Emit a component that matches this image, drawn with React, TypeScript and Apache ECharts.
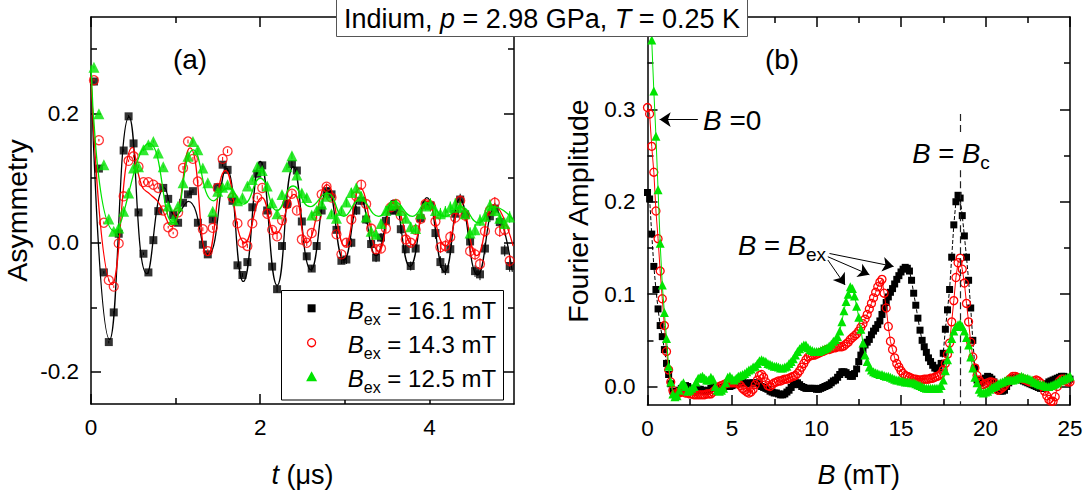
import React, { useEffect, useRef } from "react";
import * as echarts from "echarts";

const FONT = "'Liberation Sans', Arial, Helvetica, sans-serif";
const BLACK = "#000000";
const RED = "#ff0000";
const GREEN = "#00e400";

// ---- panel (a): muSR asymmetry, binned in time ----
const T_FIRST = 0.035; // first bin centre (µs)
const T_STEP = 0.0585; // bin width (µs)

const asymBlack = [
  0.25, 0.115, -0.046, -0.154, -0.108, 0.014, 0.143, 0.196, 0.154, 0.047,
  -0.017, -0.046, 0.004, 0.049, 0.085, 0.068, 0.043, 0.031, 0.062, 0.075,
  0.08, 0.031, -0.003, -0.018, 0.036, 0.086, 0.121, 0.113, 0.065, -0.035,
  -0.05, -0.03, 0.055, 0.107, 0.12, 0.05, -0.037, -0.072, -0.005, 0.06,
  0.122, 0.112, 0.033, -0.021, -0.04, -0.005, 0.05, 0.08, 0.075, 0.02,
  -0.028, -0.026, 0.0, 0.05, 0.065, 0.036, -0.002, -0.023, 0.008, 0.034,
  0.05, 0.05, 0.021, -0.01, -0.036, -0.009, 0.038, 0.058, 0.058, 0.015,
  -0.03, -0.041, -0.01, 0.045, 0.067, 0.044, 0.002, -0.044, -0.049, -0.009,
  0.041, 0.053, 0.032, -0.012, -0.036,
];

const asymRed = [
  0.252, 0.159, 0.031, -0.058, -0.068, -0.001, 0.072, 0.127, 0.134, 0.118,
  0.094, 0.094, 0.09, 0.085, 0.05, 0.024, 0.015, 0.047, 0.116, 0.157,
  0.13, 0.095, 0.021, -0.013, 0.023, 0.085, 0.13, 0.142, 0.07, 0.03,
  0.0, -0.005, 0.03, 0.07, 0.085, 0.045, 0.02, 0.01, 0.035, 0.06,
  0.076, 0.05, 0.005, 0.0, 0.015, 0.041, 0.075, 0.087, 0.07, 0.013,
  -0.018, 0.0, 0.036, 0.072, 0.09, 0.06, 0.022, -0.01, -0.009, 0.022,
  0.055, 0.06, 0.042, 0.005, 0.0, 0.02, 0.037, 0.06, 0.058, 0.033,
  -0.007, -0.005, 0.009, 0.039, 0.065, 0.042, -0.013, -0.018, -0.033, 0.018,
  0.05, 0.062, 0.018, 0.02, -0.028,
];

const asymGreen = [
  0.272, 0.2, 0.121, 0.037, 0.018, 0.023, 0.049, 0.077, 0.116, 0.118,
  0.144, 0.152, 0.157, 0.139, 0.118, 0.057, 0.036, 0.057, 0.093, 0.134,
  0.157, 0.144, 0.116, 0.093, 0.049, 0.08, 0.086, 0.09, 0.078, 0.065,
  0.07, 0.088, 0.098, 0.118, 0.112, 0.088, 0.062, 0.045, 0.075, 0.118,
  0.135, 0.105, 0.077, 0.07, 0.043, 0.05, 0.06, 0.072, 0.045, 0.038,
  0.05, 0.063, 0.078, 0.085, 0.072, 0.04, 0.018, 0.013, 0.03, 0.05,
  0.058, 0.06, 0.05, 0.038, 0.025, 0.022, 0.045, 0.057, 0.06, 0.05,
  0.045, 0.048, 0.055, 0.06, 0.055, 0.045, 0.015, 0.02, 0.035, 0.041,
  0.058, 0.05, 0.038, 0.03, 0.04,
];

// statistical error of each time bin
const asymErr = [
  0.002, 0.002, 0.002, 0.002, 0.002, 0.002, 0.002, 0.002, 0.002, 0.002,
  0.002, 0.002, 0.002, 0.002, 0.002, 0.002, 0.002, 0.003, 0.003, 0.003,
  0.003, 0.003, 0.003, 0.003, 0.003, 0.003, 0.003, 0.003, 0.003, 0.003,
  0.003, 0.003, 0.003, 0.003, 0.005, 0.005, 0.005, 0.005, 0.005, 0.005,
  0.005, 0.005, 0.005, 0.005, 0.005, 0.005, 0.005, 0.005, 0.005, 0.005,
  0.005, 0.007, 0.007, 0.007, 0.007, 0.007, 0.007, 0.007, 0.007, 0.007,
  0.007, 0.007, 0.007, 0.007, 0.007, 0.007, 0.007, 0.007, 0.009, 0.009,
  0.009, 0.009, 0.009, 0.009, 0.009, 0.009, 0.009, 0.009, 0.009, 0.009,
  0.009, 0.009, 0.009, 0.009, 0.009,
];

// fitted curves: turning points [t (µs), asymmetry]
const fitBlack = [
  [0, 0.255], [0.22, -0.15], [0.45, 0.195], [0.66, -0.048], [0.87, 0.085],
  [1.0, 0.042], [1.15, 0.064], [1.38, -0.02], [1.6, 0.115], [1.8, -0.06],
  [2.0, 0.126], [2.2, -0.066], [2.39, 0.118], [2.6, -0.042], [2.8, 0.085],
  [2.99, -0.027], [3.18, 0.07], [3.37, -0.02], [3.57, 0.066], [3.77, -0.037],
  [3.97, 0.07], [4.18, -0.045], [4.36, 0.068], [4.57, -0.05], [4.77, 0.053],
  [4.98, -0.045],
];
const fitRed = [
  [0, 0.255], [0.25, -0.065], [0.49, 0.148], [0.6, 0.088], [0.7, 0.075],
  [0.8, 0.062], [0.95, 0.025], [1.17, 0.147], [1.38, -0.02], [1.59, 0.112],
  [1.82, 0.0], [2.02, 0.07], [2.18, 0.014], [2.4, 0.075], [2.55, 0.0],
  [2.79, 0.09], [3.0, -0.005], [3.18, 0.085], [3.4, -0.013], [3.58, 0.062],
  [3.8, -0.003], [3.97, 0.064], [4.19, -0.005], [4.37, 0.056], [4.56, -0.02],
  [4.76, 0.059], [4.99, -0.005],
];
const fitGreen = [
  [0, 0.275], [0.28, 0.018], [0.69, 0.154], [0.97, 0.031], [1.21, 0.144],
  [1.45, 0.065], [1.62, 0.085], [1.8, 0.06], [2.0, 0.1], [2.2, 0.05],
  [2.39, 0.088], [2.59, 0.056], [2.79, 0.077], [2.99, 0.041], [3.18, 0.067],
  [3.4, 0.041], [3.58, 0.064], [3.8, 0.041], [3.97, 0.062], [4.19, 0.041],
  [4.37, 0.056], [4.58, 0.031], [4.76, 0.056], [4.99, 0.036],
];

const fieldLabels = ["16.1", "14.3", "12.5"];

// ---- panel (b): Fourier amplitude on a uniform field grid ----
const B_STEP = 0.125; // mT

const fftBlack = [
  0.21, 0.203, 0.165, 0.13, 0.105, 0.084, 0.066, 0.054, 0.04, 0.025,
  0.013, 0.003, -0.005, -0.008, -0.007, -0.004, -0.002, 0.0, 0.001, 0.0,
  -0.002, -0.004, -0.005, -0.004, -0.003, -0.003, -0.004, -0.005, -0.005, -0.004,
  -0.002, 0.0, 0.0, -0.001, -0.002, -0.002, -0.001, 0.0, 0.0, 0.0,
  0.001, 0.002, 0.003, 0.004, 0.004, 0.004, 0.004, 0.003, 0.003, 0.004,
  0.004, 0.004, 0.003, 0.002, 0.0, -0.001, -0.002, -0.003, -0.005, -0.006,
  -0.007, -0.007, -0.008, -0.009, -0.009, -0.008, -0.006, -0.004, -0.001, 0.002,
  0.004, 0.004, 0.002, 0.0, -0.001, -0.002, -0.002, -0.002, -0.002, -0.002,
  -0.003, -0.003, -0.002, -0.001, 0.0, 0.001, 0.002, 0.004, 0.006, 0.007,
  0.01, 0.013, 0.016, 0.016, 0.015, 0.013, 0.011, 0.011, 0.014, 0.019,
  0.027, 0.034, 0.04, 0.045, 0.048, 0.051, 0.056, 0.06, 0.063, 0.067,
  0.071, 0.078, 0.085, 0.091, 0.097, 0.102, 0.106, 0.111, 0.116, 0.12,
  0.124, 0.127, 0.129, 0.128, 0.125, 0.115, 0.101, 0.088, 0.074, 0.061,
  0.05, 0.043, 0.037, 0.031, 0.027, 0.023, 0.02, 0.019, 0.02, 0.025,
  0.036, 0.062, 0.083, 0.105, 0.14, 0.175, 0.2, 0.207, 0.204, 0.185,
  0.163, 0.14, 0.115, 0.085, 0.05, 0.02, 0.007, 0.004, 0.004, 0.006,
  0.009, 0.011, 0.01, 0.008, 0.005, 0.0, -0.004, -0.005, -0.005, -0.004,
  0.0, 0.004, 0.007, 0.009, 0.01, 0.009, 0.008, 0.007, 0.006, 0.005,
  0.004, 0.003, 0.002, 0.001, 0.0, -0.001, -0.002, -0.002, 0.0, 0.003,
  0.005, 0.006, 0.007, 0.008, 0.009, 0.01, 0.011, 0.011, 0.01, 0.009,
  0.008,
];

const fftRed = [
  0.302, 0.295, 0.26, 0.232, 0.19, 0.16, 0.125, 0.095, 0.066, 0.038,
  0.018, 0.005, -0.004, -0.008, -0.008, -0.007, -0.006, -0.006, -0.007, -0.007,
  -0.008, -0.008, -0.009, -0.009, -0.009, -0.009, -0.009, -0.009, -0.008, -0.008,
  -0.008, -0.006, -0.004, -0.002, 0.0, 0.001, 0.002, 0.003, 0.004, 0.004,
  0.004, 0.004, 0.004, 0.003, 0.001, -0.002, -0.004, -0.006, -0.007, -0.006,
  -0.003, 0.002, 0.007, 0.012, 0.013, 0.01, 0.005, 0.001, 0.0, 0.002,
  0.004, 0.005, 0.006, 0.006, 0.007, 0.008, 0.008, 0.009, 0.01, 0.011,
  0.012, 0.014, 0.017, 0.021, 0.025, 0.029, 0.032, 0.033, 0.034, 0.034,
  0.035, 0.036, 0.037, 0.038, 0.039, 0.04, 0.04, 0.041, 0.042, 0.042,
  0.043, 0.043, 0.043, 0.044, 0.046, 0.048, 0.051, 0.053, 0.055, 0.057,
  0.06, 0.064, 0.068, 0.073, 0.078, 0.084, 0.09, 0.096, 0.102, 0.108,
  0.113, 0.116, 0.101, 0.085, 0.065, 0.049, 0.04, 0.031, 0.025, 0.021,
  0.017, 0.014, 0.012, 0.011, 0.01, 0.009, 0.008, 0.008, 0.007, 0.007,
  0.007, 0.008, 0.008, 0.008, 0.009, 0.009, 0.01, 0.011, 0.012, 0.014,
  0.018, 0.025, 0.035, 0.047, 0.07, 0.093, 0.118, 0.134, 0.139, 0.127,
  0.112, 0.09, 0.07, 0.048, 0.032, 0.02, 0.012, 0.007, 0.004, 0.002,
  0.003, 0.004, 0.005, 0.005, 0.004, 0.0, -0.004, -0.003, -0.001, 0.001,
  0.004, 0.007, 0.009, 0.011, 0.011, 0.01, 0.009, 0.009, 0.008, 0.007,
  0.006, 0.005, 0.005, 0.006, 0.007, 0.006, 0.004, 0.0, -0.005, -0.01,
  -0.014, -0.016, -0.016, -0.011, 0.0, 0.006, 0.008, 0.008, 0.006, 0.005,
  0.005,
];

const fftGreen = [
  0.52, 0.45, 0.375, 0.32, 0.271, 0.213, 0.155, 0.11, 0.08, 0.052,
  0.022, 0.005, -0.008, -0.011, -0.01, -0.004, 0.002, 0.004, 0.0, -0.005,
  -0.004, -0.002, 0.0, 0.005, 0.009, 0.01, 0.011, 0.009, 0.007, 0.007,
  0.01, 0.008, 0.0, -0.004, -0.005, -0.004, -0.002, 0.004, 0.01, 0.011,
  0.009, 0.007, 0.009, 0.011, 0.012, 0.013, 0.014, 0.016, 0.018, 0.019,
  0.021, 0.022, 0.025, 0.028, 0.029, 0.028, 0.027, 0.025, 0.024, 0.023,
  0.022, 0.022, 0.021, 0.02, 0.02, 0.021, 0.022, 0.025, 0.027, 0.03,
  0.034, 0.038, 0.041, 0.043, 0.045, 0.045, 0.042, 0.04, 0.039, 0.038,
  0.038, 0.038, 0.039, 0.04, 0.041, 0.042, 0.044, 0.046, 0.049, 0.051,
  0.054, 0.06, 0.07, 0.082, 0.092, 0.1, 0.108, 0.106, 0.098, 0.087,
  0.075, 0.062, 0.047, 0.034, 0.027, 0.021, 0.018, 0.016, 0.015, 0.014,
  0.013, 0.013, 0.012, 0.011, 0.011, 0.01, 0.009, 0.008, 0.007, 0.007,
  0.006, 0.006, 0.005, 0.005, 0.005, 0.004, 0.004, 0.003, 0.002, 0.001,
  0.0, -0.001, -0.002, -0.002, -0.002, -0.002, -0.002, -0.002, -0.002, 0.001,
  0.007, 0.017, 0.029, 0.041, 0.052, 0.06, 0.065, 0.067, 0.068, 0.065,
  0.06, 0.053, 0.045, 0.032, 0.02, 0.01, 0.004, -0.003, -0.006, -0.007,
  -0.006, -0.005, -0.003, -0.001, 0.0, 0.001, 0.003, 0.004, 0.005, 0.006,
  0.007, 0.007, 0.007, 0.007, 0.008, 0.009, 0.01, 0.011, 0.01, 0.009,
  0.009, 0.008, 0.007, 0.005, 0.004, 0.003, 0.002, 0.002, 0.001, 0.0,
  0.0, 0.001, 0.002, 0.003, 0.004, 0.006, 0.007, 0.008, 0.009, 0.01,
  0.011,
];

const B_C = 18.5; // field of the normal-state line (mT)

// annotation arrows in panel (b): [from, to] in data units
const arrowZero = [[2.98, 0.289], [0.72, 0.289]];
const arrowsEx = [
  [[10.77, 0.144], [14.56, 0.13]],
  [[10.67, 0.1405], [13.13, 0.121]],
  [[10.67, 0.137], [11.69, 0.11]],
];

// ---------------------------------------------------------------

const tOf = (k: number) => T_FIRST + k * T_STEP;
const points = (arr: number[]) => arr.map((v, k) => [tOf(k), v]);
const withErr = (arr: number[]) => arr.map((v, k) => [tOf(k), v, asymErr[k]]);
const fftPoints = (arr: number[]) => arr.map((v, i) => [i * B_STEP, v]);

const errorBar = (color: string) => (_params: any, api: any) => {
  const x = api.value(0);
  const y = api.value(1);
  const e = api.value(2);
  const p1 = api.coord([x, y + e]);
  const p2 = api.coord([x, y - e]);
  return {
    type: "line",
    shape: { x1: p1[0], y1: p1[1], x2: p2[0], y2: p2[1] },
    style: { stroke: color, lineWidth: 1 },
  };
};

const tickLabel = {
  fontFamily: FONT,
  fontSize: 22.5,
  color: BLACK,
};

function makeAxis(
  gridIndex: number,
  position: string,
  min: number,
  max: number,
  ticks: number[],
  tickLen: number,
  showLine: boolean,
  label?: any
) {
  return {
    type: "value",
    gridIndex,
    position,
    min,
    max,
    axisLine: { show: showLine, onZero: false, lineStyle: { color: BLACK, width: 1.5 } },
    axisTick: {
      show: true,
      inside: true,
      length: tickLen,
      customValues: ticks,
      lineStyle: { color: BLACK, width: 1.5 },
    },
    axisLabel: label ? { show: true, customValues: ticks, ...label } : { show: false },
    splitLine: { show: false },
  };
}

const nameRich = {
  i: { fontFamily: FONT, fontSize: 27, fontStyle: "italic", color: BLACK },
  n: { fontFamily: FONT, fontSize: 27, color: BLACK },
};

function buildOption(): any {
  const tMajor = [0, 2, 4];
  const tMinor = [1, 3];
  const aMajor = [-0.2, 0, 0.2];
  const aMinor = [-0.1, 0.1, 0.3];
  const bMajor = [0, 5, 10, 15, 20, 25];
  const bMinor = [2.5, 7.5, 12.5, 17.5, 22.5];
  const fMajor = [0, 0.1, 0.2, 0.3];
  const fMinor = [0.05, 0.15, 0.25, 0.35];

  const xAxis = [
    {
      ...makeAxis(0, "bottom", 0, 5, tMajor, 10, true, { ...tickLabel, margin: 12 }),
      name: "{i|t}{n| (μs)}",
      nameLocation: "middle",
      nameGap: 57,
      nameTextStyle: { rich: nameRich },
    },
    makeAxis(0, "bottom", 0, 5, tMinor, 6, false),
    makeAxis(0, "top", 0, 5, tMajor, 10, true),
    makeAxis(0, "top", 0, 5, tMinor, 6, false),
    {
      ...makeAxis(1, "bottom", 0, 25, bMajor, 10, true, { ...tickLabel, margin: 12 }),
      name: "{i|B}{n| (mT)}",
      nameLocation: "middle",
      nameGap: 56,
      nameTextStyle: { rich: nameRich },
    },
    makeAxis(1, "bottom", 0, 25, bMinor, 6, false),
    makeAxis(1, "top", 0, 25, bMajor, 10, true),
    makeAxis(1, "top", 0, 25, bMinor, 6, false),
  ];

  const yAxis = [
    {
      ...makeAxis(0, "left", -0.25, 0.35, aMajor, 10, true, {
        ...tickLabel,
        margin: 12,
        formatter: (v: number) => v.toFixed(1),
      }),
      name: "Asymmetry",
      nameLocation: "middle",
      nameRotate: 90,
      nameGap: 60,
      nameTextStyle: { fontFamily: FONT, fontSize: 28.5, color: BLACK },
    },
    makeAxis(0, "left", -0.25, 0.35, aMinor, 6, false),
    makeAxis(0, "right", -0.25, 0.35, aMajor, 10, true),
    makeAxis(0, "right", -0.25, 0.35, aMinor, 6, false),
    {
      ...makeAxis(1, "left", -0.02, 0.4, fMajor, 10, true, {
        ...tickLabel,
        margin: 12,
        formatter: (v: number) => v.toFixed(1),
      }),
      name: "Fourier Amplitude",
      nameLocation: "middle",
      nameRotate: 90,
      nameGap: 55,
      nameTextStyle: { fontFamily: FONT, fontSize: 28.5, color: BLACK },
    },
    makeAxis(1, "left", -0.02, 0.4, fMinor, 6, false),
    makeAxis(1, "right", -0.02, 0.4, fMajor, 10, true),
    makeAxis(1, "right", -0.02, 0.4, fMinor, 6, false),
  ];

  const openCircle = (color: string) => ({
    color: "rgba(255,255,255,0)",
    borderColor: color,
    borderWidth: 1.3,
  });

  const series: any[] = [
    // panel (a)
    { type: "custom", xAxisIndex: 0, yAxisIndex: 0, renderItem: errorBar(BLACK), data: withErr(asymBlack), z: 2, clip: true },
    { type: "line", xAxisIndex: 0, yAxisIndex: 0, data: fitBlack, smooth: 0.5, symbol: "none", lineStyle: { color: BLACK, width: 1.3 }, z: 3 },
    { type: "scatter", name: "black", xAxisIndex: 0, yAxisIndex: 0, data: points(asymBlack), symbol: "rect", symbolSize: 8, itemStyle: { color: BLACK }, z: 4 },
    { type: "custom", xAxisIndex: 0, yAxisIndex: 0, renderItem: errorBar(RED), data: withErr(asymRed), z: 5, clip: true },
    { type: "line", xAxisIndex: 0, yAxisIndex: 0, data: fitRed, smooth: 0.5, symbol: "none", lineStyle: { color: RED, width: 1.3 }, z: 6 },
    { type: "scatter", name: "red", xAxisIndex: 0, yAxisIndex: 0, data: points(asymRed), symbol: "circle", symbolSize: 9, itemStyle: openCircle(RED), z: 7 },
    { type: "custom", xAxisIndex: 0, yAxisIndex: 0, renderItem: errorBar(GREEN), data: withErr(asymGreen), z: 8, clip: true },
    { type: "line", xAxisIndex: 0, yAxisIndex: 0, data: fitGreen, smooth: 0.5, symbol: "none", lineStyle: { color: GREEN, width: 1.3 }, z: 9 },
    { type: "scatter", name: "green", xAxisIndex: 0, yAxisIndex: 0, data: points(asymGreen), symbol: "triangle", symbolSize: 11, itemStyle: { color: GREEN }, z: 10 },

    // panel (b)
    {
      type: "line",
      xAxisIndex: 4,
      yAxisIndex: 4,
      data: fftPoints(fftBlack),
      symbol: "rect",
      symbolSize: 7,
      showAllSymbol: true,
      itemStyle: { color: BLACK },
      lineStyle: { color: BLACK, width: 1, type: [4, 2] },
      z: 3,
      markLine: {
        silent: true,
        symbol: ["none", "none"],
        label: { show: false },
        lineStyle: { color: "#222", width: 1.2, type: [7, 4] },
        data: [
          [{ coord: [B_C, 0.295] }, { coord: [B_C, 0.275] }],
          [{ coord: [B_C, 0.234] }, { coord: [B_C, -0.02] }],
        ],
      },
    },
    {
      type: "line",
      xAxisIndex: 4,
      yAxisIndex: 4,
      data: fftPoints(fftRed),
      symbol: "circle",
      symbolSize: 8,
      showAllSymbol: true,
      itemStyle: openCircle(RED),
      lineStyle: { color: RED, width: 1 },
      z: 4,
    },
    {
      type: "line",
      xAxisIndex: 4,
      yAxisIndex: 4,
      data: fftPoints(fftGreen),
      symbol: "triangle",
      symbolSize: 9,
      showAllSymbol: true,
      itemStyle: { color: GREEN },
      lineStyle: { color: GREEN, width: 1 },
      z: 5,
      markLine: {
        silent: true,
        symbol: ["none", "arrow"],
        symbolSize: 11,
        label: { show: false },
        lineStyle: { color: BLACK, width: 1, type: "solid" },
        data: [
          [{ coord: arrowZero[0] }, { coord: arrowZero[1] }],
          ...arrowsEx.map((a) => [{ coord: a[0] }, { coord: a[1] }]),
        ],
      },
    },
  ];

  const txt = (size: number) => ({
    n: { fontFamily: FONT, fontSize: size, fill: BLACK, lineHeight: size + 10 },
    i: { fontFamily: FONT, fontSize: size, fill: BLACK, fontStyle: "italic", lineHeight: size + 10 },
    s: { fontFamily: FONT, fontSize: Math.round(size * 0.68), fill: BLACK, lineHeight: Math.round(size * 0.68), verticalAlign: "bottom" },
  });

  const legendRows = [308.3, 342.7, 376.7];
  const mx = 311.6;

  const graphic: any[] = [
    // title box
    {
      type: "rect",
      shape: { x: 336.5, y: -1, width: 411, height: 37.5 },
      style: { fill: "#fff", stroke: "#555", lineWidth: 1 },
      z: 100,
    },
    {
      type: "text",
      x: 542,
      y: 19,
      z: 101,
      style: {
        text: "{n|Indium, }{i|p}{n| = 2.98 GPa, }{i|T}{n| = 0.25 K}",
        rich: txt(27),
        align: "center",
        verticalAlign: "middle",
      },
    },
    // panel letters
    { type: "text", x: 190, y: 59, z: 20, style: { text: "(a)", font: `28px ${FONT}`, fill: BLACK, align: "center", verticalAlign: "middle" } },
    { type: "text", x: 782, y: 59, z: 20, style: { text: "(b)", font: `28px ${FONT}`, fill: BLACK, align: "center", verticalAlign: "middle" } },
    // legend of panel (a)
    {
      type: "rect",
      shape: { x: 281.5, y: 290.5, width: 222, height: 109.5 },
      style: { fill: "#fff", stroke: BLACK, lineWidth: 1 },
      z: 50,
    },
    { type: "rect", shape: { x: mx - 4, y: legendRows[0] - 4, width: 8, height: 8 }, style: { fill: BLACK }, z: 51 },
    { type: "circle", shape: { cx: mx, cy: legendRows[1], r: 4 }, style: { fill: "rgba(255,255,255,0)", stroke: RED, lineWidth: 1.3 }, z: 51 },
    {
      type: "polygon",
      shape: { points: [[mx, legendRows[2] - 5.5], [mx + 5.5, legendRows[2] + 4.5], [mx - 5.5, legendRows[2] + 4.5]] },
      style: { fill: GREEN },
      z: 51,
    },
    ...fieldLabels.map((f, k) => ({
      type: "text",
      x: 347.8,
      y: legendRows[k] + 2,
      z: 51,
      style: {
        text: `{i|B}{s|ex}{n| = ${f} mT}`,
        rich: txt(24),
        align: "left",
        verticalAlign: "middle",
      },
    })),
    // annotations of panel (b)
    {
      type: "text",
      x: 703,
      y: 120,
      z: 20,
      style: { text: "{i|B}{n| =0}", rich: txt(28), align: "left", verticalAlign: "middle" },
    },
    {
      type: "text",
      x: 951,
      y: 153,
      z: 20,
      style: { text: "{i|B}{n| = }{i|B}{s|c}", rich: txt(27.5), align: "center", verticalAlign: "middle" },
    },
    {
      type: "text",
      x: 738,
      y: 245,
      z: 20,
      style: { text: "{i|B}{n| = }{i|B}{s|ex}", rich: txt(27.5), align: "left", verticalAlign: "middle" },
    },
  ];

  return {
    animation: false,
    backgroundColor: "#ffffff",
    textStyle: { fontFamily: FONT },
    grid: [
      { left: 91, top: 17, width: 423, height: 388, containLabel: false },
      { left: 647.5, top: 17, width: 422.5, height: 388, containLabel: false },
    ],
    xAxis,
    yAxis,
    series,
    graphic,
  };
}

export default function App() {
  const ref = useRef<HTMLDivElement>(null);
  useEffect(() => {
    if (!ref.current) return;
    const chart = echarts.init(ref.current, null, { renderer: "svg" });
    chart.setOption(buildOption());
    return () => chart.dispose();
  }, []);
  return (
    <div
      ref={ref}
      style={{ position: "fixed", left: 0, top: 0, width: 1086, height: 493, background: "#fff" }}
    />
  );
}
